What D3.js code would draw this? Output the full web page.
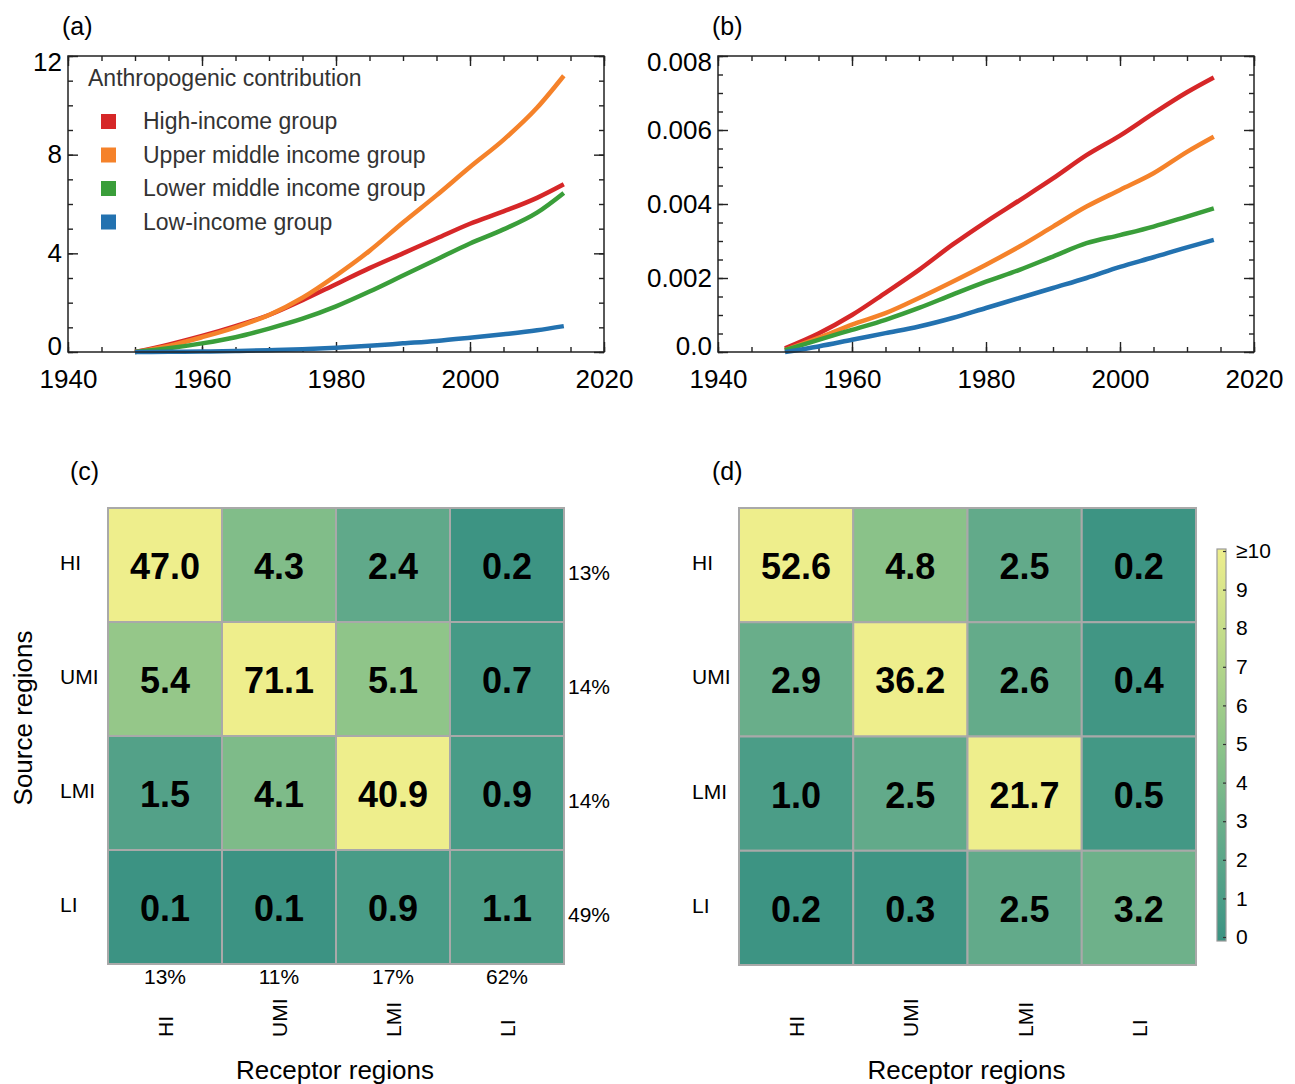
<!DOCTYPE html>
<html>
<head>
<meta charset="utf-8">
<script src="https://cdn.jsdelivr.net/npm/d3@7"></script>
<style>
  body { margin: 0; background: #fff; }
  svg { font-family: "Liberation Sans", Arial, sans-serif; display: block; }
</style>
</head>
<body>
<svg id="fig" width="1295" height="1084"></svg>
<script>
// ---- data ----
const years = [1950, 1955, 1960, 1965, 1970, 1975, 1980, 1985, 1990, 1995, 2000, 2005, 2010, 2014];
const groupNames = ['High-income group', 'Upper middle income group', 'Lower middle income group', 'Low-income group'];
const groupColors = ['#d62728', '#f5822a', '#3a9e3a', '#2372b0'];

// panel (a)
const hiA  = [0, 0.3, 0.65, 1.05, 1.5, 2.1, 2.75, 3.4, 4.0, 4.6, 5.2, 5.7, 6.25, 6.8];
const umiA = [0, 0.25, 0.6, 1.0, 1.5, 2.2, 3.1, 4.1, 5.25, 6.35, 7.5, 8.6, 9.9, 11.2];
const lmiA = [0, 0.15, 0.35, 0.6, 0.95, 1.35, 1.85, 2.45, 3.1, 3.75, 4.4, 4.97, 5.65, 6.45];
const liA  = [0, 0.01, 0.02, 0.04, 0.07, 0.11, 0.17, 0.25, 0.35, 0.45, 0.58, 0.72, 0.88, 1.05];

// panel (b)
const hiB  = [0.0001, 0.0005, 0.001, 0.0016, 0.00222, 0.0029, 0.00352, 0.0041, 0.00469, 0.00532, 0.00585, 0.00645, 0.00702, 0.00742];
const umiB = [0.00005, 0.00038, 0.00074, 0.00105, 0.00146, 0.0019, 0.00236, 0.00285, 0.00339, 0.00393, 0.00438, 0.00483, 0.00541, 0.00582];
const lmiB = [0.00005, 0.00033, 0.0006, 0.00087, 0.00119, 0.00155, 0.0019, 0.00222, 0.00258, 0.00294, 0.00316, 0.00339, 0.00366, 0.00388];
const liB  = [0, 0.00015, 0.00033, 0.00051, 0.00069, 0.00092, 0.00119, 0.00146, 0.00173, 0.002, 0.0023, 0.00256, 0.00283, 0.00303];

const xTicks = [1940, 1960, 1980, 2000, 2020];
const yTicksA = [0, 4, 8, 12];
const yTicksB = [0, 0.002, 0.004, 0.006, 0.008];
const yTickLabelsB = ['0.0', '0.002', '0.004', '0.006', '0.008'];

// heatmaps
const regions = ['HI', 'UMI', 'LMI', 'LI'];
const cValues = [
  [47.0, 4.3, 2.4, 0.2],
  [5.4, 71.1, 5.1, 0.7],
  [1.5, 4.1, 40.9, 0.9],
  [0.1, 0.1, 0.9, 1.1]
];
const dValues = [
  [52.6, 4.8, 2.5, 0.2],
  [2.9, 36.2, 2.6, 0.4],
  [1.0, 2.5, 21.7, 0.5],
  [0.2, 0.3, 2.5, 3.2]
];
const rowPct = ['13%', '14%', '14%', '49%'];
const colPct = ['13%', '11%', '17%', '62%'];
const cbarTicks = [0, 1, 2, 3, 4, 5, 6, 7, 8, 9, 10];
const cbarLabels = ['0', '1', '2', '3', '4', '5', '6', '7', '8', '9', '\u226510'];

const svg = d3.select('#fig');
svg.append('rect').attr('width', 1295).attr('height', 1084).attr('fill', '#fff');

const color = d3.scaleLinear()
  .domain([0, 1, 2.5, 5, 7.5, 10])
  .range(['#3a9282', '#4b9d87', '#62aa8a', '#8dc489', '#bcd98a', '#eeee8c'])
  .clamp(true);

// ---- line panels ----
function linePanel(opts) {
  const {left, right, top, bottom, yDomain, yTicks, yFmt, series, minorY} = opts;
  const x = d3.scaleLinear().domain([1940, 2020]).range([left, right]);
  const y = d3.scaleLinear().domain(yDomain).range([bottom, top]);
  const g = svg.append('g');
  const xMinor = d3.range(1940, 2021, 5);
  const yMinor = d3.range(yDomain[0], yDomain[1] + minorY / 2, minorY);

  function styleAxis(sel) {
    sel.select('.domain').remove();
    sel.selectAll('line').attr('stroke', '#222').attr('stroke-width', 1.4);
    sel.selectAll('text').attr('font-size', 26).attr('fill', '#000')
      .attr('font-family', '"Liberation Sans", Arial, sans-serif');
  }
  // major + minor ticks on all sides (inward)
  g.append('g').attr('transform', `translate(0,${bottom})`)
    .call(d3.axisBottom(x).tickValues(xTicks).tickSize(-10).tickPadding(18).tickFormat(d3.format('d')))
    .call(styleAxis);
  g.append('g').attr('transform', `translate(0,${bottom})`)
    .call(d3.axisBottom(x).tickValues(xMinor).tickSize(-5).tickFormat(''))
    .call(styleAxis);
  g.append('g').attr('transform', `translate(0,${top})`)
    .call(d3.axisTop(x).tickValues(xTicks).tickSize(-10).tickFormat(''))
    .call(styleAxis);
  g.append('g').attr('transform', `translate(0,${top})`)
    .call(d3.axisTop(x).tickValues(xMinor).tickSize(-5).tickFormat(''))
    .call(styleAxis);
  const yl = g.append('g').attr('transform', `translate(${left},0)`)
    .call(d3.axisLeft(y).tickValues(yTicks).tickSize(-10).tickPadding(6).tickFormat(yFmt))
    .call(styleAxis);
  // end labels sit a little inside the frame
  yl.selectAll('text').attr('y', (d, i) => i === 0 ? -6 : (i === yTicks.length - 1 ? 6 : 0));
  g.append('g').attr('transform', `translate(${left},0)`)
    .call(d3.axisLeft(y).tickValues(yMinor).tickSize(-5).tickFormat(''))
    .call(styleAxis);
  g.append('g').attr('transform', `translate(${right},0)`)
    .call(d3.axisRight(y).tickValues(yTicks).tickSize(-10).tickFormat(''))
    .call(styleAxis);
  g.append('g').attr('transform', `translate(${right},0)`)
    .call(d3.axisRight(y).tickValues(yMinor).tickSize(-5).tickFormat(''))
    .call(styleAxis);

  const line = d3.line().x((d, i) => x(years[i])).y(d => y(d)).curve(d3.curveMonotoneX);
  series.forEach((s, k) => {
    g.append('path').datum(s)
      .attr('d', line)
      .attr('fill', 'none')
      .attr('stroke', groupColors[k])
      .attr('stroke-width', 4.5)
      .attr('stroke-linecap', 'butt');
  });

  g.append('rect')
    .attr('x', left).attr('y', top)
    .attr('width', right - left).attr('height', bottom - top)
    .attr('fill', 'none').attr('stroke', '#222').attr('stroke-width', 1.5);
  return g;
}

const gA = linePanel({
  left: 68, right: 604, top: 56, bottom: 352,
  yDomain: [0, 12], yTicks: yTicksA, yFmt: d3.format('d'), minorY: 1,
  series: [hiA, umiA, lmiA, liA]
});
linePanel({
  left: 718, right: 1254, top: 56, bottom: 352,
  yDomain: [0, 0.008], yTicks: yTicksB, yFmt: (d, i) => yTickLabelsB[i], minorY: 0.0005,
  series: [hiB, umiB, lmiB, liB]
});

// legend in (a)
gA.append('text').attr('x', 88).attr('y', 86).attr('font-size', 23).attr('fill', '#333')
  .text('Anthropogenic contribution');
groupNames.forEach((name, i) => {
  const yy = 121 + i * 33.5;
  gA.append('rect').attr('x', 101).attr('y', yy - 7).attr('width', 15).attr('height', 15)
    .attr('fill', groupColors[i]);
  gA.append('text').attr('x', 143).attr('y', yy + 8).attr('font-size', 23).attr('fill', '#333')
    .text(name);
});

// panel letters
[['(a)', 62, 35], ['(b)', 712, 35], ['(c)', 70, 480], ['(d)', 712, 480]].forEach(([t, px, py]) => {
  svg.append('text').attr('x', px).attr('y', py).attr('font-size', 25).text(t);
});

// ---- heatmaps ----
function heatPanel(opts) {
  const {left, top, size, values, rowLabelX, pct} = opts;
  const x = d3.scaleBand().domain(regions).range([left, left + size]);
  const y = d3.scaleBand().domain(regions).range([top, top + size]);
  const g = svg.append('g');
  const cells = [];
  values.forEach((row, r) => row.forEach((v, c) => cells.push({r: regions[r], c: regions[c], v})));

  g.selectAll('rect.cell').data(cells).enter().append('rect')
    .attr('class', 'cell')
    .attr('x', d => x(d.c)).attr('y', d => y(d.r))
    .attr('width', x.bandwidth()).attr('height', y.bandwidth())
    .attr('fill', d => color(d.v))
    .attr('stroke', '#a9a9a9').attr('stroke-width', 2);

  g.selectAll('text.val').data(cells).enter().append('text')
    .attr('class', 'val')
    .attr('x', d => x(d.c) + x.bandwidth() / 2)
    .attr('y', d => y(d.r) + y.bandwidth() / 2 + 14)
    .attr('text-anchor', 'middle')
    .attr('font-size', 36).attr('font-weight', 'bold')
    .text(d => d.v.toFixed(1));

  // row labels
  g.selectAll('text.row').data(regions).enter().append('text')
    .attr('x', rowLabelX)
    .attr('y', d => y(d) + y.bandwidth() / 2 + 5)
    .attr('font-size', 21)
    .text(d => d);

  // column labels (rotated)
  g.selectAll('text.col').data(regions).enter().append('text')
    .attr('transform', d => `translate(${x(d) + x.bandwidth() / 2 + 8},1037) rotate(-90)`)
    .attr('font-size', 21)
    .text(d => d);

  g.append('text')
    .attr('x', left + size / 2 - 1).attr('y', 1079)
    .attr('text-anchor', 'middle').attr('font-size', 26)
    .text('Receptor regions');

  if (pct) {
    g.selectAll('text.rp').data(rowPct).enter().append('text')
      .attr('x', left + size + 4)
      .attr('y', (d, i) => y(regions[i]) + y.bandwidth() / 2 + 15)
      .attr('font-size', 21)
      .text(d => d);
    g.selectAll('text.cp').data(colPct).enter().append('text')
      .attr('x', (d, i) => x(regions[i]) + x.bandwidth() / 2)
      .attr('y', top + size + 20)
      .attr('text-anchor', 'middle')
      .attr('font-size', 21)
      .text(d => d);
  }
  return g;
}

heatPanel({left: 108, top: 508, size: 456, values: cValues, rowLabelX: 60, pct: true});
heatPanel({left: 739, top: 508, size: 457, values: dValues, rowLabelX: 692, pct: false});

svg.append('text')
  .attr('transform', 'translate(32,718) rotate(-90)')
  .attr('text-anchor', 'middle').attr('font-size', 26)
  .text('Source regions');

// ---- colorbar ----
const cb = d3.scaleLinear().domain([0, 10]).range([937, 551]);
const defs = svg.append('defs');
const grad = defs.append('linearGradient').attr('id', 'cbgrad')
  .attr('x1', 0).attr('y1', 1).attr('x2', 0).attr('y2', 0);
d3.range(0, 10.01, 0.5).forEach(v => {
  grad.append('stop').attr('offset', v / 10).attr('stop-color', color(v));
});
svg.append('rect')
  .attr('x', 1217).attr('y', cb(10) - 2).attr('width', 9).attr('height', cb(0) - cb(10) + 6)
  .attr('fill', 'url(#cbgrad)').attr('stroke', '#999').attr('stroke-width', 1.2);
const cbAxis = svg.append('g').attr('transform', 'translate(1226,0)')
  .call(d3.axisRight(cb).tickValues(cbarTicks).tickSize(-3).tickPadding(10)
    .tickFormat((d, i) => cbarLabels[i]));
cbAxis.select('.domain').remove();
cbAxis.selectAll('line').attr('stroke', '#333').attr('stroke-width', 1.2);
cbAxis.selectAll('text').attr('font-size', 21).attr('fill', '#000')
  .attr('font-family', '"Liberation Sans", Arial, sans-serif');
</script>
</body>
</html>
